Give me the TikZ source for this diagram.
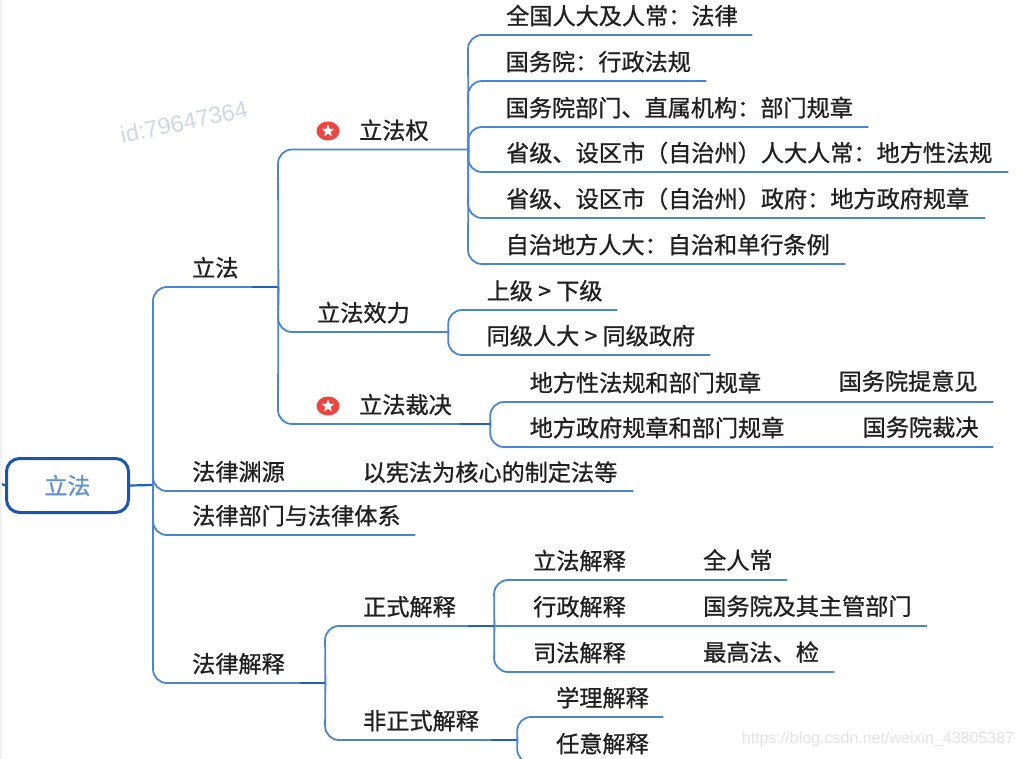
\documentclass[tikz,border=0pt]{standalone}
\usepackage{fontspec}
\usetikzlibrary{shapes.geometric}
\newfontfamily\cjk[FakeBold=0.9]{Noto Sans CJK SC}
\newfontfamily\cjkbold[FakeBold=1.2]{Noto Sans CJK SC}
\newfontfamily\wm{Liberation Sans}
\definecolor{branchblue}{HTML}{4A86CF}
\definecolor{stemblue}{HTML}{1F62BC}
\definecolor{rootblue}{HTML}{1A55AE}
\definecolor{rootlabel}{HTML}{5F93D2}
\definecolor{inktext}{HTML}{202020}
\definecolor{starred}{HTML}{EE4540}
\definecolor{idmark}{HTML}{CFD6E4}
\definecolor{urlmark}{HTML}{E2E2E2}
\definecolor{edgegrey}{HTML}{F1F1F1}
\tikzset{
  branch/.style={draw=branchblue,line width=1.8pt,rounded corners=14pt},
  stem/.style={draw=stemblue,line width=2.2pt},
  label/.style={font=\cjk\fontsize{23.15}{23}\selectfont,text=inktext,inner sep=0pt,anchor=base west},
  icon/.style={ellipse,fill=starred,minimum width=23pt,minimum height=19pt,inner sep=0pt},
  iconstar/.style={star,star points=5,star point ratio=2.3,fill=white,minimum size=13pt,inner sep=0pt},
  rootbox/.style={draw=rootblue,line width=3pt,rounded corners=13pt,fill=white,minimum width=122pt,minimum height=54pt,inner sep=0pt,font=\cjkbold\fontsize{23}{23}\selectfont,text=rootlabel}
}
% name, line start x, line end x, line y, text offset from line start, text
\newcommand{\topic}[6]{%
  \pgfmathsetmacro{\topicw}{#3-#2}%
  \node[font=\cjk\fontsize{23.15}{23}\selectfont,text=inktext,inner sep=0pt,anchor=south west,
        text width=\topicw pt,align=left,text height=27.7pt,text depth=10.3pt]
        (#1) at (#2,#4) {\hspace*{#5pt}#6};}
\newcommand{\link}[2]{\draw[branch] (#1.south east) -- (#2.south west) -- (#2.south east);}
\newcommand{\dark}[2]{\draw[stem] ([xshift=-#2pt]#1.south east) -- (#1.south east);}
\newcommand{\gtsign}{\hspace{5.2pt}>\hspace{5.2pt}}
\begin{document}
\begin{tikzpicture}[x=1pt,y=-1pt]
\useasboundingbox (0,0) rectangle (1023,758);
\clip (0,0) rectangle (1023,758);
\fill[edgegrey] (0,0) rectangle (2,758);

% watermarks
\node[font=\wm\fontsize{23.5}{23.5}\selectfont,text=idmark,rotate=12,inner sep=0pt] (idwm) at (184,122) {id:79647364};
\node[font=\wm\fontsize{16}{16}\selectfont,text=urlmark,inner sep=0pt] (urlwm) at (878,739) {https://blog.csdn.net/weixin\_43805387};

% topics
\topic{lifa}{153}{278}{287}{39}{立法}
\topic{yuanyuan}{153}{633}{491}{39}{法律渊源}
\topic{bumen}{153}{415}{535}{39}{法律部门与法律体系}
\topic{jieshi}{153}{325}{683}{39}{法律解释}

\topic{quan}{278}{468}{149.5}{81}{立法权}
\topic{xiaoli}{278}{448}{332}{39}{立法效力}
\topic{caijue}{278}{490}{424}{81}{立法裁决}

\topic{q1}{468}{752}{35}{38}{全国人大及人常：法律}
\topic{q2}{468}{706}{81}{37.5}{国务院：行政法规}
\topic{q3}{468}{868}{127}{37.5}{国务院部门、直属机构：部门规章}
\topic{q4}{468}{1008}{172}{38}{省级、设区市（自治州）人大人常：地方性法规}
\topic{q5}{468}{985}{218}{38}{省级、设区市（自治州）政府：地方政府规章}
\topic{q6}{468}{845}{264}{37.5}{自治地方人大：自治和单行条例}

\topic{x1}{448}{617}{310}{38.5}{上级\gtsign 下级}
\topic{x2}{448}{710}{355}{38.5}{同级人大\gtsign 同级政府}

\topic{c1}{490}{993}{402}{39.5}{地方性法规和部门规章}
\topic{c2}{490}{993}{447}{39.5}{地方政府规章和部门规章}

\topic{zs}{325}{494}{626}{38}{正式解释}
\topic{fzs}{325}{517}{740}{38}{非正式解释}

\topic{z1}{494}{787}{580}{39}{立法解释}
\topic{z2}{494}{927}{626}{39}{行政解释}
\topic{z3}{494}{834}{672}{39}{司法解释}

\topic{f1}{517}{663}{717}{39}{学理解释}
\topic{f2}{517}{663}{763}{39}{任意解释}

% second labels on a branch
\node[label] (c1b) at (838.5,390) {国务院提意见};
\node[label] (c2b) at (862.5,436) {国务院裁决};
\node[label] (yyb) at (362.5,481) {以宪法为核心的制定法等};
\node[label] (z1b) at (703,569) {全人常};
\node[label] (z2b) at (703,615) {国务院及其主管部门};
\node[label] (z3b) at (703,661) {最高法、检};

% root
\node[rootbox] (root) at (67.5,485.5) {\raisebox{1.5pt}{立法}};
\coordinate (hub) at (153,485);
\coordinate (rootstub) at (2,484);
\draw[stem] (rootstub) -- (root.west);
\draw[stem] (root.east) -- (hub);

% connectors
\foreach \c in {lifa,bumen,jieshi}{\draw[branch] (hub) -- (\c.south west) -- (\c.south east);}
\draw[branch] (hub) -- (yuanyuan.south west) -- (yuanyuan.south east);
\foreach \c in {quan,xiaoli,caijue}{\link{lifa}{\c}}
\foreach \c in {q1,q2,q3,q4,q5,q6}{\link{quan}{\c}}
\foreach \c in {x1,x2}{\link{xiaoli}{\c}}
\foreach \c in {c1,c2}{\link{caijue}{\c}}
\foreach \c in {zs,fzs}{\link{jieshi}{\c}}
\foreach \c in {z1,z2,z3}{\link{zs}{\c}}
\foreach \c in {f1,f2}{\link{fzs}{\c}}

\dark{lifa}{26}
\dark{jieshi}{25}
\dark{caijue}{30}
\dark{zs}{26}
\dark{fzs}{26}

% star icons
\node[icon] (icona) at (328,131) {};
\node[iconstar] (stara) at (icona.center) {};
\node[icon] (iconb) at (328,406) {};
\node[iconstar] (starb) at (iconb.center) {};
\end{tikzpicture}
\end{document}
